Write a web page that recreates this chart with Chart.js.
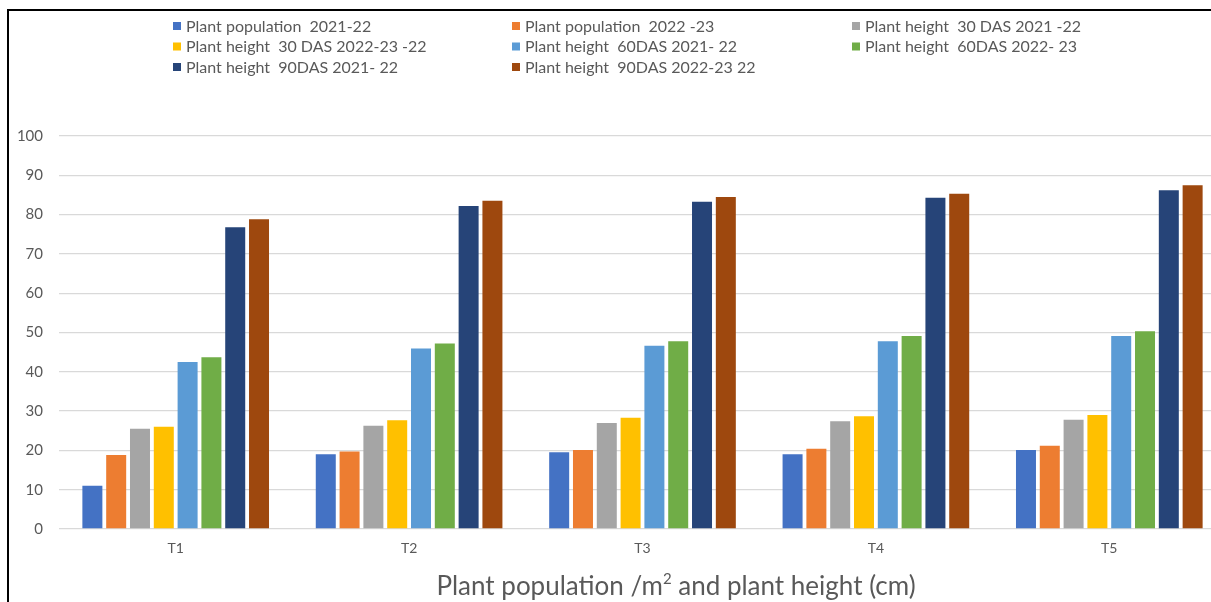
<!DOCTYPE html>
<html>
<head>
<meta charset="utf-8">
<title>Plant population and plant height</title>
<script src="https://cdn.jsdelivr.net/npm/chart.js@4.4.1/dist/chart.umd.min.js"></script>
<style>
  html, body { margin: 0; padding: 0; background: #fff; overflow: hidden; }
  #wrap { position: relative; width: 1211px; height: 602px; overflow: hidden; }
  #frame { position: absolute; left: 7px; top: 9px; width: 1300px; height: 700px;
           border-left: 2px solid #000; border-top: 2px solid #000; pointer-events: none; }
  #cv { position: absolute; left: 0; top: 0; }
</style>
</head>
<body>
<div id="wrap">
  <canvas id="cv" width="1232" height="602"></canvas>
  <div id="frame"></div>
</div>
<script>
// Treatments
const categories = ['T1', 'T2', 'T3', 'T4', 'T5'];

// Series names
const seriesNames = [
  'Plant population  2021-22',
  'Plant population  2022 -23',
  'Plant height  30 DAS 2021 -22',
  'Plant height  30 DAS 2022-23 -22',
  'Plant height  60DAS 2021- 22',
  'Plant height  60DAS 2022- 23',
  'Plant height  90DAS 2021- 22',
  'Plant height  90DAS 2022-23 22'
];

// Values per treatment (T1..T5)
const popY1   = [11.0, 19.0, 19.5, 19.0, 20.1];
const popY2   = [18.8, 19.7, 20.1, 20.4, 21.2];
const h30Y1   = [25.5, 26.3, 27.0, 27.4, 27.8];
const h30Y2   = [26.0, 27.7, 28.3, 28.7, 29.0];
const h60Y1   = [42.5, 45.9, 46.6, 47.8, 49.1];
const h60Y2   = [43.7, 47.2, 47.8, 49.1, 50.3];
const h90Y1   = [76.8, 82.2, 83.3, 84.3, 86.2];
const h90Y2   = [78.8, 83.5, 84.5, 85.3, 87.5];

// Value axis ticks
const yTicks = [0, 10, 20, 30, 40, 50, 60, 70, 80, 90, 100];

const seriesValues = [popY1, popY2, h30Y1, h30Y2, h60Y1, h60Y2, h90Y1, h90Y2];
const seriesColors = ['#4472C4', '#ED7D31', '#A5A5A5', '#FFC000',
                      '#5B9BD5', '#70AD47', '#264478', '#9E480E'];

const TEXT = '#595959';
const FONT = 'Lato, "Liberation Sans", sans-serif';

// Three-column legend drawn from the chart's datasets
const gridLegend = {
  id: 'gridLegend',
  afterDraw(chart) {
    const ctx = chart.ctx;
    const colX = [173, 512, 852];
    const rowY = [26, 46.5, 67];
    ctx.save();
    ctx.font = '16px ' + FONT;
    ctx.textBaseline = 'middle';
    ctx.textAlign = 'left';
    chart.data.datasets.forEach((ds, i) => {
      const x = colX[i % 3];
      const y = rowY[Math.floor(i / 3)];
      ctx.fillStyle = ds.backgroundColor;
      ctx.fillRect(x, y - 4, 8, 8);
      ctx.fillStyle = TEXT;
      ctx.fillText(ds.label, x + 13, y + 0.5);
    });
    ctx.restore();
  }
};

// Axis title with superscript
const axisTitle = {
  id: 'axisTitle',
  afterDraw(chart) {
    const ctx = chart.ctx;
    const parts = [
      { t: 'Plant population /m', size: 26, dy: 0 },
      { t: '2', size: 15, dy: -11 },
      { t: ' and plant height (cm)', size: 26, dy: 0 }
    ];
    ctx.save();
    ctx.textBaseline = 'alphabetic';
    ctx.textAlign = 'left';
    let total = 0;
    parts.forEach(p => { ctx.font = p.size + 'px ' + FONT; p.w = ctx.measureText(p.t).width; total += p.w; });
    let x = 676 - total / 2;
    const base = 595;
    ctx.fillStyle = TEXT;
    parts.forEach(p => {
      ctx.font = p.size + 'px ' + FONT;
      ctx.fillText(p.t, x, base + p.dy);
      x += p.w;
    });
    ctx.restore();
  }
};

new Chart(document.getElementById('cv'), {
  type: 'bar',
  data: {
    labels: categories,
    datasets: seriesNames.map((name, i) => ({
      label: name,
      data: seriesValues[i],
      backgroundColor: seriesColors[i],
      borderWidth: 0,
      barPercentage: 0.84,
      categoryPercentage: 0.816
    }))
  },
  options: {
    responsive: false,
    animation: false,
    layout: { padding: { top: 136, left: 0, right: 6, bottom: 0 } },
    plugins: {
      legend: { display: false },
      tooltip: { enabled: false },
      title: { display: false }
    },
    scales: {
      x: {
        grid: { display: false, drawTicks: false },
        border: { display: false },
        ticks: { color: TEXT, font: { family: FONT, size: 14 }, padding: 11 },
        afterFit(scale) { scale.height = 73; }
      },
      y: {
        min: 0,
        max: 100,
        afterBuildTicks(scale) { scale.ticks = yTicks.map(v => ({ value: v })); },
        grid: { color: '#D9D9D9', lineWidth: 1.3, drawTicks: false },
        border: { display: false },
        ticks: { color: TEXT, font: { family: FONT, size: 15 }, padding: 16 },
        afterFit(scale) { scale.width = 59; }
      }
    }
  },
  plugins: [gridLegend, axisTitle]
});
</script>
</body>
</html>
